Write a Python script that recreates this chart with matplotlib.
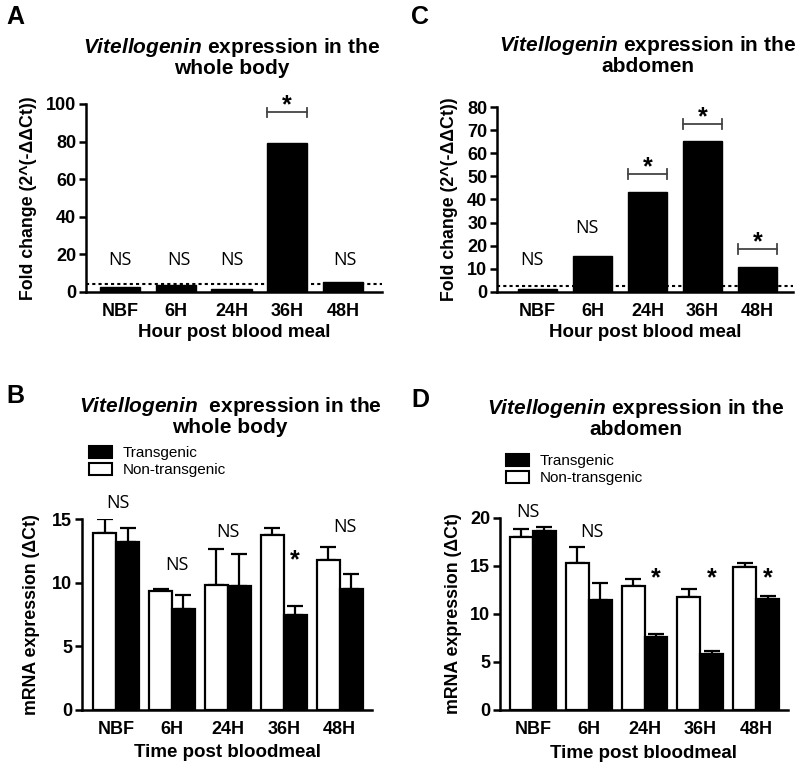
import matplotlib
matplotlib.use("Agg")
import matplotlib.pyplot as plt
import numpy as np
from matplotlib.patches import Patch

plt.rcParams['font.family'] = ['Liberation Sans', 'DejaVu Sans']
plt.rcParams['mathtext.fontset'] = 'custom'
plt.rcParams['mathtext.it'] = 'Liberation Sans:italic:bold'
plt.rcParams['mathtext.rm'] = 'Liberation Sans:bold'
plt.rcParams['mathtext.bf'] = 'Liberation Sans:bold'

# ---------------- data ----------------
categories = ['NBF', '6H', '24H', '36H', '48H']

# Panel A: fold change, whole body
A_fold = [2.6, 3.7, 1.5, 79.0, 5.5]
A_ref = 4.3
A_marks = ['NS', 'NS', 'NS', '*', 'NS']
A_mark_y = [14.4, 14.4, 14.4, 95.5, 14.4]
A_bracket_y = [None, None, None, 95.5, None]

# Panel C: fold change, abdomen
C_fold = [1.2, 15.6, 43.2, 65.5, 10.9]
C_ref = 2.6
C_marks = ['NS', 'NS', '*', '*', '*']
C_mark_y = [11.7, 25.5, 51.0, 72.6, 18.6]
C_bracket_y = [None, None, 51.0, 72.6, 18.6]

# Panel B: delta Ct, whole body
B_non = [13.9, 9.35, 9.8, 13.75, 11.75]
B_non_err = [1.1, 0.15, 2.85, 0.55, 1.05]
B_tg = [13.2, 7.9, 9.75, 7.5, 9.5]
B_tg_err = [1.1, 1.1, 2.5, 0.7, 1.15]
B_marks = ['NS', 'NS', 'NS', '*', 'NS']
B_mark_y = [15.87, 11.0, 13.6, 11.2, 14.0]

# Panel D: delta Ct, abdomen
D_non = [18.0, 15.3, 12.95, 11.8, 14.9]
D_non_err = [0.9, 1.7, 0.65, 0.8, 0.45]
D_tg = [18.65, 11.45, 7.6, 5.8, 11.55]
D_tg_err = [0.45, 1.75, 0.3, 0.35, 0.35]
D_marks = ['NS', 'NS', '*', '*', '*']
D_mark_y = [20.1, 18.0, 13.0, 13.0, 13.0]

# ---------------- figure ----------------
W, H = 800, 768
fig = plt.figure(figsize=(W / 100, H / 100), dpi=100)


def ax_px(left, right, bottom, top):
    return fig.add_axes([left / W, 1 - bottom / H, (right - left) / W, (bottom - top) / H])


SPW = 1.8


def style(ax, ylim, yticks, xlim, ylab, xlab, ylab_x, xlab_y):
    ax.set_ylim(*ylim)
    ax.set_xlim(*xlim)
    ax.set_yticks(yticks)
    ax.set_xticks(np.arange(len(categories)))
    ax.set_xticklabels(categories)
    for s in ['top', 'right']:
        ax.spines[s].set_visible(False)
    for s in ['left', 'bottom']:
        ax.spines[s].set_linewidth(SPW)
    ax.tick_params(axis='y', direction='out', length=5, width=SPW, labelsize=13, pad=2)
    ax.tick_params(axis='x', length=0, labelsize=13, pad=8)
    for lab in ax.get_xticklabels() + ax.get_yticklabels():
        lab.set_fontweight('bold')
    ax.set_ylabel(ylab, fontsize=12.8, fontweight='bold')
    ax.set_xlabel(xlab, fontsize=13.5, fontweight='bold')
    ax.yaxis.set_label_coords(ylab_x, 0.5)
    ax.xaxis.set_label_coords(0.5, xlab_y)


def marks(ax, xs, labels, ys):
    for x, lab, y in zip(xs, labels, ys):
        if lab == '*':
            ax.text(x, y, lab, ha='center', va='baseline', fontsize=18,
                    fontweight='bold', clip_on=False)
        else:
            ax.text(x, y, lab, ha='center', va='baseline', fontsize=13,
                    family='Open Sans', clip_on=False)


def brackets(ax, xs, ys, width, ylim):
    span = ylim[1] - ylim[0]
    for x, y in zip(xs, ys):
        if y is None:
            continue
        d = span * 0.025
        x0, x1 = x - width / 2, x + width / 2
        ax.plot([x0, x1], [y, y], color='#444444', lw=1.3, clip_on=False)
        ax.plot([x0, x0], [y - d, y + d], color='#444444', lw=1.3, clip_on=False)
        ax.plot([x1, x1], [y - d, y + d], color='#444444', lw=1.3, clip_on=False)


x = np.arange(len(categories))

# ---- Panel A ----
axA = ax_px(86, 382, 292, 104)
bw = 0.72
axA.bar(x, A_fold, width=bw, color='black', edgecolor='black')
axA.axhline(A_ref, color='black', lw=1.5, ls=(0, (1.5, 1.5)), zorder=3)
style(axA, (0, 100), [0, 20, 40, 60, 80, 100], (-0.61, 4.7),
      'Fold change (2^(-ΔΔCt))', 'Hour post blood meal', -0.166, -0.17)
brackets(axA, x, A_bracket_y, bw, (0, 100))
marks(axA, x + np.array([0, 0.05, 0, 0, 0.03]), A_marks, A_mark_y)

# ---- Panel C ----
axC = ax_px(497, 793, 292, 107)
axC.bar(x, C_fold, width=bw, color='black', edgecolor='black')
axC.axhline(C_ref, color='black', lw=1.5, ls=(0, (1.5, 1.5)), zorder=3)
style(axC, (0, 80), [0, 10, 20, 30, 40, 50, 60, 70, 80], (-0.74, 4.65),
      'Fold change (2^(-ΔΔCt))', 'Hour post blood meal', -0.132, -0.175)
brackets(axC, x, C_bracket_y, bw, (0, 80))
marks(axC, x + np.array([-0.1, -0.1, 0, 0, 0]), C_marks, C_mark_y)

# ---- Panel B ----
hb = 0.41
axB = ax_px(82, 372, 710, 519)
axB.bar(x - hb / 2, B_non, width=hb, color='white', edgecolor='black', lw=1.6, zorder=2)
axB.bar(x + hb / 2, B_tg, width=hb, color='black', edgecolor='black', lw=1.6, zorder=2)
axB.errorbar(x - hb / 2, B_non, yerr=[np.zeros(5), B_non_err], fmt='none', ecolor='black',
             elinewidth=1.6, capsize=6, capthick=1.6, zorder=1)
axB.errorbar(x + hb / 2, B_tg, yerr=[np.zeros(5), B_tg_err], fmt='none', ecolor='black',
             elinewidth=1.6, capsize=6, capthick=1.6, zorder=1)
style(axB, (0, 15), [0, 5, 10, 15], (-0.61, 4.58),
      'mRNA expression (ΔCt)', 'Time post bloodmeal', -0.145, -0.18)
marks(axB, x + np.array([0.03, 0.09, 0, hb / 2, 0.1]), B_marks, B_mark_y)
axB.legend(handles=[Patch(facecolor='black', edgecolor='black', lw=1.5, label='Transgenic'),
                    Patch(facecolor='white', edgecolor='black', lw=1.5, label='Non-transgenic')],
           loc='upper left', bbox_to_anchor=(89 / W, 1 - 446 / H), bbox_transform=fig.transFigure,
           frameon=False, fontsize=11, handlelength=1.5, handleheight=0.8,
           handletextpad=0.7, labelspacing=0.2, borderpad=0, borderaxespad=0)

# ---- Panel D ----
axD = ax_px(500, 788, 710, 518)
axD.bar(x - hb / 2, D_non, width=hb, color='white', edgecolor='black', lw=1.6, zorder=2)
axD.bar(x + hb / 2, D_tg, width=hb, color='black', edgecolor='black', lw=1.6, zorder=2)
axD.errorbar(x - hb / 2, D_non, yerr=[np.zeros(5), D_non_err], fmt='none', ecolor='black',
             elinewidth=1.6, capsize=6, capthick=1.6, zorder=1)
axD.errorbar(x + hb / 2, D_tg, yerr=[np.zeros(5), D_tg_err], fmt='none', ecolor='black',
             elinewidth=1.6, capsize=6, capthick=1.6, zorder=1)
style(axD, (0, 20), [0, 5, 10, 15, 20], (-0.59, 4.57),
      'mRNA expression (ΔCt)', 'Time post bloodmeal', -0.132, -0.18)
marks(axD, x + np.array([-0.09, 0.05, hb / 2, hb / 2, hb / 2]), D_marks, D_mark_y)
axD.legend(handles=[Patch(facecolor='black', edgecolor='black', lw=1.5, label='Transgenic'),
                    Patch(facecolor='white', edgecolor='black', lw=1.5, label='Non-transgenic')],
           loc='upper left', bbox_to_anchor=(506 / W, 1 - 454 / H), bbox_transform=fig.transFigure,
           frameon=False, fontsize=11, handlelength=1.5, handleheight=0.8,
           handletextpad=0.7, labelspacing=0.2, borderpad=0, borderaxespad=0)

# ---- titles and panel letters ----
titles = [
    (232, 57, '$\\mathit{Vitellogenin}$ expression in the\nwhole body'),
    (648, 55, '$\\mathit{Vitellogenin}$ expression in the\nabdomen'),
    (230, 416, '$\\mathit{Vitellogenin}$  expression in the\nwhole body'),
    (636, 418, '$\\mathit{Vitellogenin}$ expression in the\nabdomen'),
]
for tx, ty, t in titles:
    fig.text(tx / W, 1 - ty / H, t, ha='center', va='center', fontsize=15,
             fontweight='bold', linespacing=1.0, multialignment='center')

for lx, ly, l in [(15, 17, 'A'), (420, 17, 'C'), (15, 396, 'B'), (420, 400, 'D')]:
    fig.text(lx / W, 1 - ly / H, l, ha='center', va='center', fontsize=18, fontweight='bold')

fig.savefig('out.png', dpi=100)
